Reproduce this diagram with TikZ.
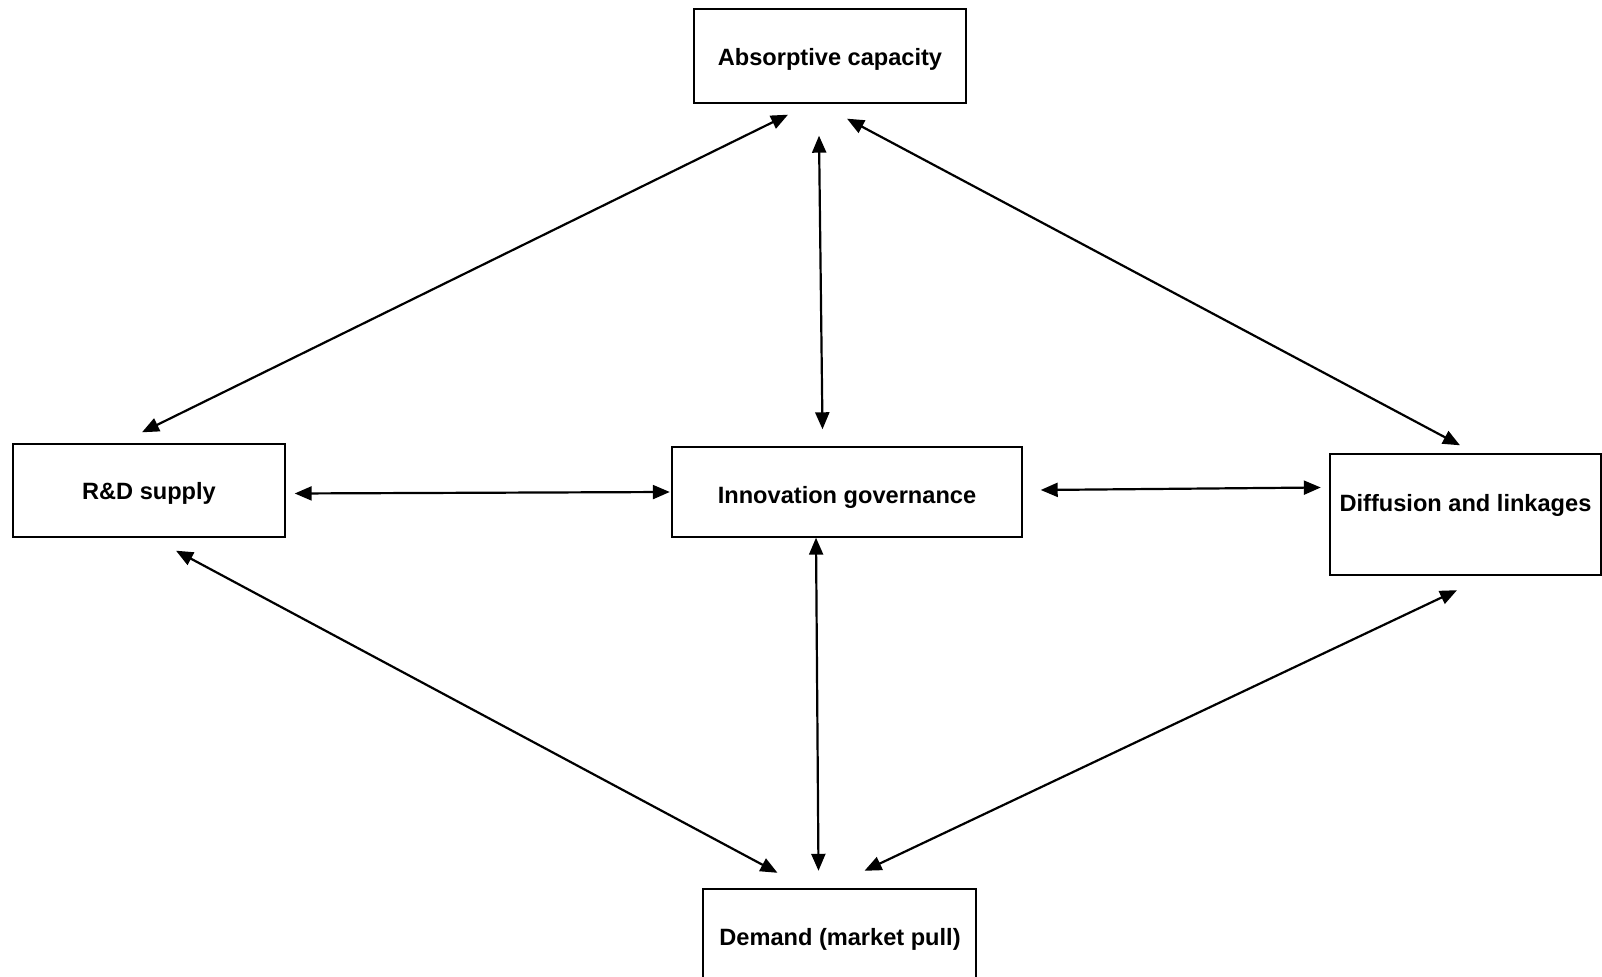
\documentclass[tikz,border=0pt]{standalone}
\usepackage{fontspec}
\setmainfont{Liberation Sans}
\usetikzlibrary{arrows.meta,calc}
\tikzset{
  box/.style={draw=black, line width=0.7pt, fill=white, inner sep=0pt},
  lbl/.style={inner sep=0pt, font=\fontsize{11.8pt}{13pt}\selectfont\bfseries},
  link/.style={line width=1.1pt, {Triangle[length=8.5pt,width=7pt]}-{Triangle[length=8.5pt,width=7pt]}}
}
\begin{document}
\begin{tikzpicture}[x=0.5pt,y=-0.5pt]
\useasboundingbox (0,0) rectangle (1602,977);
\begin{scope}
\clip (0,0) rectangle (1602,977);
\node[box, minimum width=136pt, minimum height=47pt] (ac) at (830,56) {};
\node[lbl] (act) at (830,59.5) {Absorptive capacity};
\node[box, minimum width=136pt, minimum height=46.5pt] (rd) at (149,490.5) {};
\node[lbl] (rdt) at (149,493.5) {R\&D supply};
\node[box, minimum width=175pt, minimum height=45pt] (ig) at (847,492) {};
\node[lbl] (igt) at (847,497) {Innovation governance};
\node[box, minimum width=135.5pt, minimum height=60.5pt] (df) at (1465.5,514.5) {};
\node[lbl] (dft) at (1465.5,505) {Diffusion and linkages};
\node[box, minimum width=136.5pt, minimum height=51pt] (dm) at (839.5,940) {};
\node[lbl] (dmt) at (840,939.5) {Demand (market pull)};
\end{scope}
\draw[link] ($(ac.south)+(-42,11)$) -- ($(rd.north)+(-7,-11)$);
\draw[link] ($(ac.south)+(-11,32)$) -- ($(ig.north)+(-24.5,-17)$);
\draw[link] ($(ac.south)+(17,15)$) -- ($(df.north)+(-5.5,-8)$);
\draw[link] ($(rd.east)+(9,3)$) -- ($(ig.west)+(-1.5,0)$);
\draw[link] ($(ig.east)+(18,-2)$) -- ($(df.west)+(-8.5,-27)$);
\draw[link] ($(rd.south)+(27,13)$) -- ($(dm.north)+(-62,-15.5)$);
\draw[link] ($(ig.south)+(-31,0)$) -- ($(dm.north)+(-21,-17.5)$);
\draw[link] ($(df.south)+(-8.5,14.5)$) -- ($(dm.north)+(25,-17.5)$);
\end{tikzpicture}
\end{document}
